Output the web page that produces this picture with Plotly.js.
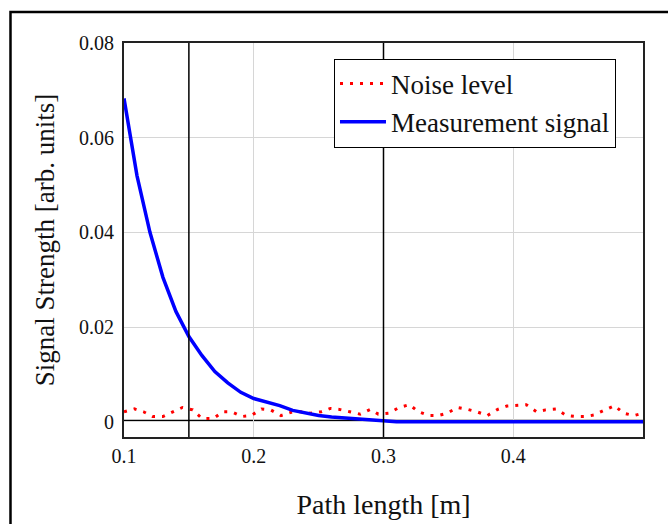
<!DOCTYPE html>
<html>
<head>
<meta charset="utf-8">
<script src="https://cdn.plot.ly/plotly-3.0.1.min.js"></script>
<style>
  html, body { margin: 0; padding: 0; background: #fff; }
  #chart { width: 668px; height: 524px; }
</style>
</head>
<body>
<div id="chart"></div>
<script>
const signalX = [0.10,0.11,0.12,0.13,0.14,0.15,0.16,0.17,0.18,0.19,0.20,0.21,0.22,0.23,0.24,0.25,0.26,0.27,0.28,0.29,0.30,
                 0.31,0.32,0.33,0.34,0.35,0.36,0.37,0.38,0.39,0.40,0.41,0.42,0.43,0.44,0.45,0.46,0.47,0.48,0.49,0.50];
const signalY = [0.0683,0.0520,0.0400,0.0305,0.0233,0.0180,0.0140,0.0106,0.0082,0.0062,0.0049,0.0041,0.0034,0.0024,0.0018,0.0013,0.0010,0.0008,0.0006,0.0004,0.0003,
                 0.0000,0.0000,0.0000,0.0000,0.0000,0.0000,0.0000,0.0000,0.0000,0.0000,0.0000,0.0000,0.0000,0.0000,0.0000,0.0000,0.0000,0.0000,0.0000,0.0000];

// Noise level
const noiseX = [0.100,0.108,0.115,0.122,0.130,0.138,0.145,0.153,0.160,0.169,0.176,0.183,0.191,0.198,0.206,0.213,0.221,0.229,0.236,0.244,
                0.252,0.259,0.266,0.274,0.282,0.290,0.296,0.304,0.312,0.320,0.327,0.335,0.342,0.349,0.357,0.365,0.372,0.380,0.388,0.395,
                0.402,0.410,0.418,0.425,0.433,0.441,0.448,0.456,0.462,0.471,0.478,0.485,0.493,0.500];
const noiseY = [0.0021,0.0027,0.0021,0.0011,0.0011,0.0021,0.0030,0.0025,0.0007,0.0007,0.0021,0.0021,0.0011,0.0013,0.0027,0.0025,0.0013,0.0020,0.0021,0.0018,
                0.0021,0.0028,0.0026,0.0021,0.0016,0.0026,0.0016,0.0018,0.0030,0.0036,0.0021,0.0013,0.0013,0.0018,0.0030,0.0026,0.0021,0.0013,0.0026,0.0033,
                0.0034,0.0036,0.0021,0.0025,0.0027,0.0013,0.0011,0.0011,0.0014,0.0025,0.0034,0.0018,0.0013,0.0018];

const markerLinesX = [0.15, 0.30];
const xTicks = [0.1, 0.2, 0.3, 0.4, 0.5];
const xTickText = ['0.1', '0.2', '0.3', '0.4', ''];
const yTicks = [0, 0.02, 0.04, 0.06, 0.08];
const yTickText = ['0', '0.02', '0.04', '0.06', '0.08'];

const FONT = '"Liberation Serif"';

const traces = [
  { x: noiseX, y: noiseY, type: 'scatter', mode: 'lines', name: 'Noise level',
    line: { color: '#ff0000', width: 3, dash: '3px,7px' } },
  { x: signalX, y: signalY, type: 'scatter', mode: 'lines', name: 'Measurement signal',
    line: { color: '#0000ff', width: 3.5 } }
];

const shapes = [];
markerLinesX.forEach(v => shapes.push({ type: 'line', xref: 'x', yref: 'paper', x0: v, x1: v, y0: 0, y1: 1,
  line: { color: '#000', width: 1.5 }, layer: 'above' }));
shapes.push({ type: 'line', xref: 'paper', yref: 'y', x0: 0, x1: 1, y0: 0.00025, y1: 0.00025,
  line: { color: '#000', width: 1.5 }, layer: 'below' });
// outer figure frame
shapes.push({ type: 'rect', xref: 'paper', yref: 'paper', x0: -0.2187, x1: 1.08, y0: -0.27, y1: 1.0787,
  line: { color: '#000', width: 2.5 }, fillcolor: 'rgba(0,0,0,0)' });

const layout = {
  width: 668, height: 524,
  margin: { l: 124, r: 25, t: 43, b: 87 },
  paper_bgcolor: '#fff', plot_bgcolor: '#fff',
  font: { family: FONT, color: '#111', size: 20 },
  showlegend: true,
  legend: { x: 0.4046, y: 0.9606, xanchor: 'left', yanchor: 'top',
    bordercolor: '#000', borderwidth: 1, bgcolor: '#fff', itemwidth: 46,
    font: { family: FONT, size: 27, color: '#111' }, tracegroupgap: 0 },
  xaxis: {
    range: [0.1, 0.5], tickvals: xTicks, ticktext: xTickText,
    showgrid: true, gridcolor: '#d6d6d6', gridwidth: 1, zeroline: false,
    showline: true, mirror: true, linecolor: '#222', linewidth: 2, ticks: '',
    tickfont: { family: FONT, size: 20, color: '#111' },
    title: { text: 'Path length [m]', font: { family: FONT, size: 28, color: '#111' }, standoff: 28 }
  },
  yaxis: {
    range: [-0.00323, 0.08], tickvals: yTicks, ticktext: yTickText,
    showgrid: true, gridcolor: '#d6d6d6', gridwidth: 1, zeroline: false,
    showline: true, mirror: true, linecolor: '#222', linewidth: 2, ticks: '',
    ticklabelstandoff: 4,
    tickfont: { family: FONT, size: 20, color: '#111' },
    title: { text: 'Signal Strength [arb. units]', font: { family: FONT, size: 27, color: '#111' }, standoff: 17 }
  },
  shapes: shapes
};

Plotly.newPlot('chart', traces, layout, { displayModeBar: false, staticPlot: true });
</script>
</body>
</html>
